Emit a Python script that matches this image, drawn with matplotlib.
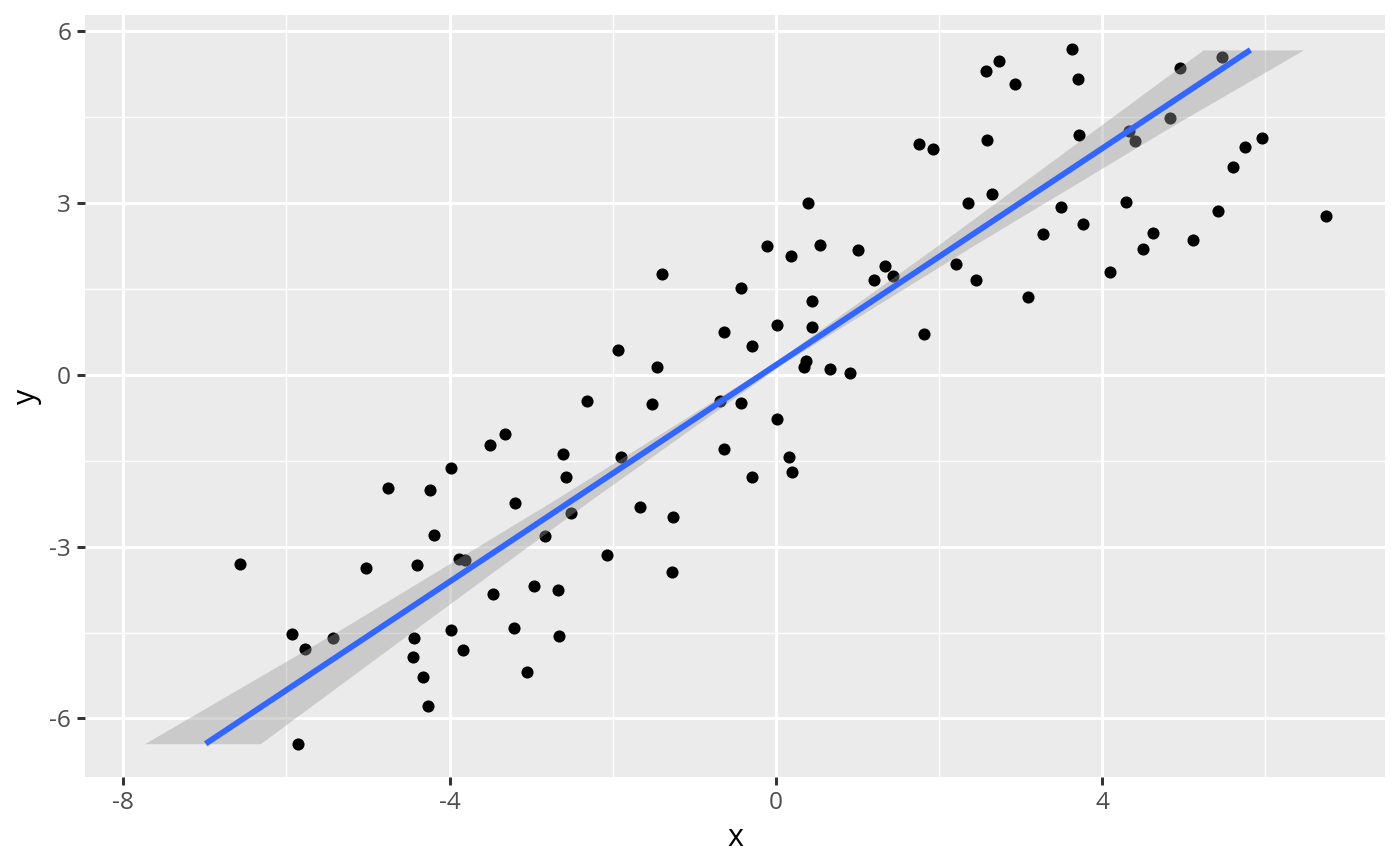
import matplotlib.pyplot as plt
import numpy as np

plt.rcParams['font.family'] = ['Open Sans', 'DejaVu Sans']

# points
x = [-6.57, -5.93, -5.77, -5.43, -5.86, -5.02, -4.76, -4.44, -4.45, -4.40,
     -4.32, -4.26, -4.24, -4.19, -3.98, -3.98, -3.88, -3.81, -3.84, -3.51,
     -3.47, -3.32, -3.20, -3.21, -3.05, -2.97, -2.83, -2.67, -2.66, -2.61,
     -2.57, -2.51, -2.32, -2.07, -1.93, -1.90, -1.67, -1.52, -1.46, -1.40,
     -1.26, -1.27, -0.69, -0.64, -0.63, -0.43, -0.43, -0.29, -0.29, -0.11,
     0.02, 0.02, 0.16, 0.19, 0.20, 0.34, 0.37, 0.40, 0.45, 0.45,
     0.54, 0.67, 0.91, 1.01, 1.21, 1.34, 1.44, 1.76, 1.82, 1.93,
     2.21, 2.36, 2.45, 2.58, 2.59, 2.65, 2.74, 2.93, 3.09, 3.28,
     3.50, 3.63, 3.71, 3.72, 3.77, 4.10, 4.30, 4.33, 4.41, 4.50,
     4.63, 4.83, 4.96, 5.11, 5.42, 5.47, 5.60, 5.75, 5.96, 6.75]
y = [-3.31, -4.52, -4.78, -4.59, -6.45, -3.38, -1.98, -4.59, -4.92, -3.32,
     -5.28, -5.79, -2.02, -2.80, -1.63, -4.45, -3.22, -3.24, -4.80, -1.23,
     -3.82, -1.03, -2.23, -4.42, -5.18, -3.68, -2.81, -3.75, -4.56, -1.39,
     -1.78, -2.41, -0.45, -3.15, 0.44, -1.43, -2.30, -0.51, 0.14, 1.75,
     -2.48, -3.45, -0.45, 0.75, -1.30, 1.52, -0.49, 0.50, -1.78, 2.25,
     0.86, -0.77, -1.44, 2.08, -1.69, 0.13, 0.24, 3.00, 1.28, 0.84,
     2.27, 0.10, 0.03, 2.18, 1.66, 1.89, 1.72, 4.02, 0.71, 3.94,
     1.93, 2.99, 1.66, 5.31, 4.10, 3.15, 5.48, 5.08, 1.35, 2.46,
     2.93, 5.68, 5.17, 4.19, 2.63, 1.80, 3.02, 4.25, 4.08, 2.20,
     2.48, 4.48, 5.36, 2.36, 2.86, 5.54, 3.63, 3.97, 4.13, 2.77]

# smooth (x along y)
fit_y = [-6.44, 5.67]
fit_x = [-6.99, 5.82]
band_y = [-6.44, -4.40, -2.20, 0.20, 2.20, 4.35, 5.67]
band_lo = [-7.74, -5.28, -2.73, -0.03, 1.93, 3.98, 5.24]
band_hi = [-6.32, -4.38, -2.28, 0.09, 2.36, 4.87, 6.47]

xticks = [-8, -4, 0, 4]
yticks = [-6, -3, 0, 3, 6]
xminor = [-6, -2, 2, 6]
yminor = [-4.5, -1.5, 1.5, 4.5]

fig = plt.figure(figsize=(7, 4.33), dpi=200)
ax = fig.add_axes([0.0607, 0.1022, 0.9286, 0.8805])
ax.set_facecolor('#EBEBEB')
for sp in ax.spines.values():
    sp.set_visible(False)

for v in xticks:
    ax.axvline(v, color='white', lw=1.07, zorder=1)
for v in xminor:
    ax.axvline(v, color='white', lw=0.53, zorder=1)
for v in yticks:
    ax.axhline(v, color='white', lw=1.07, zorder=1)
for v in yminor:
    ax.axhline(v, color='white', lw=0.53, zorder=1)

ax.scatter(x, y, s=19, color='black', linewidths=0, zorder=2)
ax.fill_betweenx(band_y, band_lo, band_hi, color='#999999', alpha=0.4,
                 linewidth=0, zorder=3)
ax.plot(fit_x, fit_y, color='#3366FF', lw=2.1, zorder=4, solid_capstyle='butt')

ax.set_xlim(-8.47, 7.47)
ax.set_ylim(-7.03, 6.28)
ax.set_xticks(xticks)
ax.set_yticks(yticks)
ax.set_xticklabels([str(v) for v in xticks])
ax.set_yticklabels([str(v) for v in yticks])
ax.tick_params(length=2.75, width=1.07, color='#333333', labelcolor='#4D4D4D',
               labelsize=8.8, pad=2.2)
ax.set_xlabel('x', fontsize=11, color='black', labelpad=2.75)
ax.set_ylabel('y', fontsize=11, color='black', labelpad=2.75)

fig.savefig('out.png', dpi=200)
